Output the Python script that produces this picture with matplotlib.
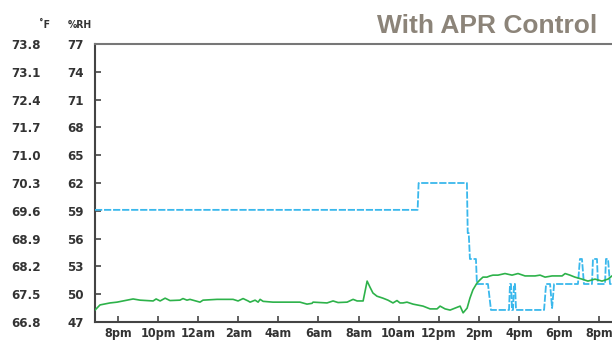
import matplotlib
matplotlib.use("Agg")
import matplotlib.pyplot as plt

# ---- data ----
# time in hours after 8pm (day 1)
rh_ticks = [47, 50, 53, 56, 59, 62, 65, 68, 71, 74, 77]
tf_ticks = [66.8, 67.5, 68.2, 68.9, 69.6, 70.3, 71.0, 71.7, 72.4, 73.1, 73.8]
x_tick_hours = [0, 2, 4, 6, 8, 10, 12, 14, 16, 18, 20, 22, 24]
x_tick_labels = ["8pm", "10pm", "12am", "2am", "4am", "6am", "8am", "10am",
                 "12pm", "2pm", "4pm", "6pm", "8pm"]

rh_time = [-1.15, 14.95, 15.0, 17.41, 17.45, 17.5, 17.56, 17.86, 17.91, 18.46,
           18.61, 19.51, 19.56, 19.61, 19.66, 19.71, 19.76, 19.81, 19.86, 21.26,
           21.36, 21.56, 21.66, 21.76, 22.95, 23.05, 23.15, 23.25, 23.65, 23.70,
           23.90, 23.95, 24.30, 24.35, 24.45, 24.55, 24.65]
rh_vals = [59.1, 59.1, 62.0, 62.0, 56.6, 56.6, 53.8, 53.8, 51.1, 51.1,
           48.3, 48.3, 51.1, 51.1, 48.3, 48.3, 51.1, 51.1, 48.3, 48.3,
           51.1, 51.1, 48.5, 51.1, 51.1, 53.8, 53.8, 51.1, 51.1, 53.8,
           53.8, 51.1, 51.1, 53.8, 53.8, 51.1, 51.1]

temp_time = [-1.15, -0.90, -0.40, -0.05, 0.25, 0.75, 1.10, 1.75, 1.90, 2.10,
             2.35, 2.59, 3.09, 3.24, 3.44, 3.59, 4.09, 4.24, 4.94, 5.74,
             5.99, 6.24, 6.49, 6.59, 6.84, 6.99, 7.09, 7.24, 7.73, 9.08,
             9.43, 9.68, 9.73, 10.08, 10.43, 10.73, 10.98, 11.43, 11.73, 11.93,
             12.23, 12.43, 12.57, 12.72, 12.92, 13.22, 13.47, 13.72, 13.92, 14.07,
             14.22, 14.42, 14.72, 15.22, 15.57, 15.92, 16.07, 16.32, 16.57, 16.82,
             17.07, 17.22, 17.42, 17.56, 17.71, 17.91, 18.06, 18.21, 18.41, 18.56,
             18.71, 18.96, 19.31, 19.66, 19.96, 20.31, 20.81, 21.06, 21.31, 21.66,
             22.16, 22.31, 22.55, 22.80, 23.15, 23.45, 23.80, 24.15, 24.45, 24.65]
temp_vals = [67.10, 67.23, 67.28, 67.30, 67.33, 67.38, 67.35, 67.33, 67.38, 67.33,
             67.40, 67.34, 67.35, 67.39, 67.35, 67.37, 67.30, 67.35, 67.37, 67.37,
             67.33, 67.39, 67.33, 67.30, 67.35, 67.30, 67.37, 67.32, 67.30, 67.30,
             67.25, 67.27, 67.30, 67.29, 67.28, 67.33, 67.29, 67.30, 67.37, 67.33,
             67.33, 67.83, 67.68, 67.53, 67.45, 67.40, 67.35, 67.28, 67.34, 67.28,
             67.28, 67.30, 67.25, 67.20, 67.13, 67.13, 67.20, 67.13, 67.10, 67.15,
             67.20, 67.03, 67.15, 67.40, 67.61, 67.78, 67.86, 67.93, 67.93, 67.96,
             67.98, 67.98, 68.02, 67.98, 68.02, 67.96, 67.96, 67.98, 67.93, 67.96,
             67.96, 68.02, 67.98, 67.93, 67.88, 67.83, 67.88, 67.83, 67.88, 67.96]

title = "With APR Control"

# ---- figure ----
W, H = 612, 341
fig = plt.figure(figsize=(W / 100, H / 100), dpi=100)
left, right, top, bottom = 95, 612, 44, 322
ax = fig.add_axes([left / W, (H - bottom) / H, (right - left) / W, (bottom - top) / H])

tick_font = dict(family=["DejaVu Sans"], stretch="condensed",
                 weight="bold", size=9.5)
xtick_font = dict(family=["DejaVu Sans"], stretch="condensed",
                  weight="bold", size=9)
txt_col = "#333333"

ax.set_xlim(-1.15, 24.65)
ax.set_ylim(47, 77)
ax.plot(rh_time, rh_vals, color="#3ab8ec", lw=1.3, linestyle=(0, (4, 1)), zorder=3)

ax.set_yticks(rh_ticks)
ax.set_yticklabels([str(v) for v in rh_ticks], fontdict=tick_font, color=txt_col)
ax.set_xticks(x_tick_hours)
ax.set_xticklabels(x_tick_labels, fontdict=xtick_font, color=txt_col)
ax.tick_params(axis="y", direction="in", length=4, width=1.2, color="#444444", pad=8)
ax.tick_params(axis="x", direction="in", length=4, width=1.2, color="#444444", pad=3.5)

ax.spines["right"].set_visible(False)
ax.spines["left"].set_color("#444444")
ax.spines["left"].set_linewidth(1.5)
ax.spines["bottom"].set_color("#444444")
ax.spines["bottom"].set_linewidth(1.5)
ax.spines["top"].set_color("#777777")
ax.spines["top"].set_linewidth(1.5)

ax2 = ax.twinx()
ax2.set_ylim(66.8, 73.8)
ax2.plot(temp_time, temp_vals, color="#2db24a", lw=1.2, zorder=4)
ax2.yaxis.set_ticks_position("left")
ax2.yaxis.set_label_position("left")
ax2.set_yticks(tf_ticks)
ax2.set_yticklabels([f"{v:.1f}" for v in tf_ticks], fontdict=tick_font, color=txt_col)
ax2.tick_params(axis="y", length=0, pad=39)
for s in ax2.spines.values():
    s.set_visible(False)

hdr_font = dict(family=["DejaVu Sans"], stretch="condensed",
                weight="bold", size=7.5, color=txt_col)
fig.text(45 / W, 1 - 25 / H, "˚F", ha="center", va="center", **hdr_font)
fig.text(80 / W, 1 - 25 / H, "%RH", ha="center", va="center", **hdr_font)

fig.text(597 / W, 1 - 33 / H, title, ha="right", va="baseline",
         family=["Liberation Sans", "DejaVu Sans"], weight="bold", size=19,
         color="#8c8479")

fig.savefig("out.png", dpi=100)
